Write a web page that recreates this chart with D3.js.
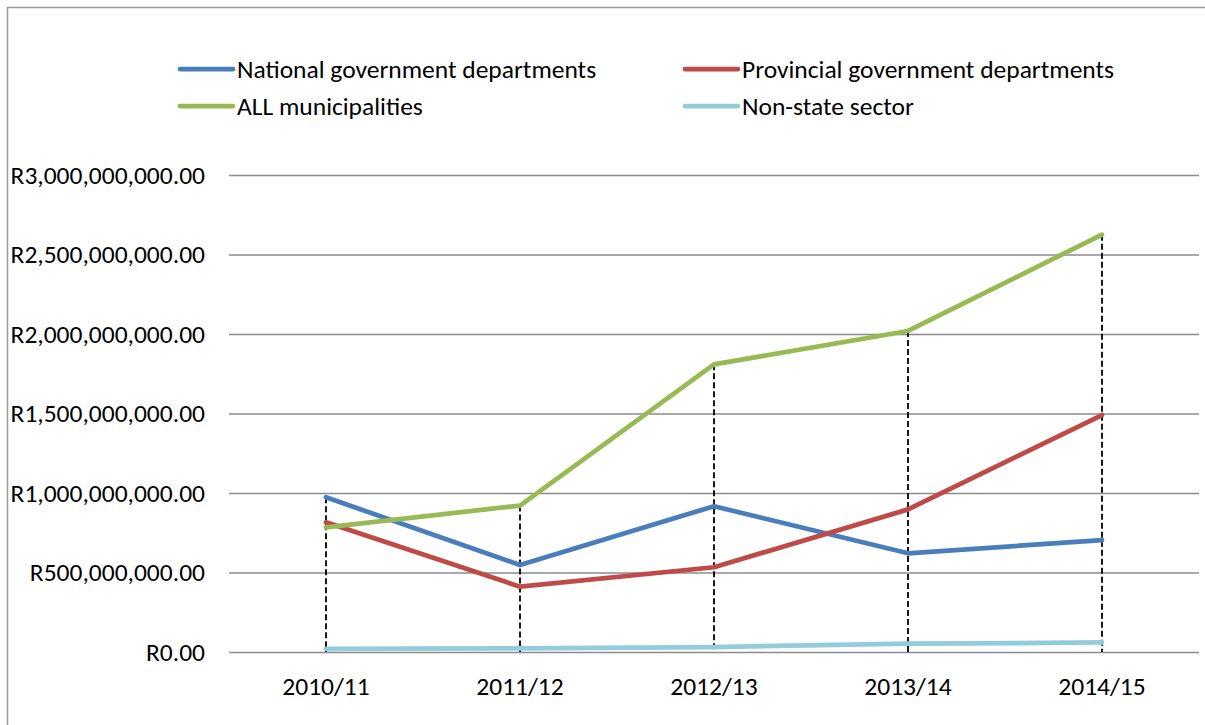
<!DOCTYPE html>
<html>
<head>
<meta charset="utf-8">
<script src="https://cdn.jsdelivr.net/npm/d3@7"></script>
<style>
  body { margin: 0; background: #fff; }
  svg { display: block; font-family: Carlito, Lato, "Open Sans", sans-serif; }
</style>
</head>
<body>
<div id="chart"></div>
<script>
const years = ['2010/11', '2011/12', '2012/13', '2013/14', '2014/15'];
const national = [973e6, 547e6, 917e6, 621e6, 704e6];
const provincial = [816e6, 411e6, 533e6, 897e6, 1490e6];
const municipalities = [784e6, 921e6, 1809e6, 2019e6, 2625e6];
const nonState = [20e6, 23e6, 31e6, 52e6, 60e6];
const yTicks = [0, 5e8, 1e9, 1.5e9, 2e9, 2.5e9, 3e9];

const series = [
  { name: 'National government departments', values: national, color: '#4a7ebb' },
  { name: 'Provincial government departments', values: provincial, color: '#be4b48' },
  { name: 'ALL municipalities', values: municipalities, color: '#98b954' },
  { name: 'Non-state sector', values: nonState, color: '#92cddc' },
];

const width = 1205;
const height = 725;
const margin = { top: 175, right: 6, bottom: 73, left: 229 };
const fontSize = '25.5px';
const fontFamily = 'Carlito, Lato, "Open Sans", sans-serif';

const svg = d3.select('#chart')
  .append('svg')
  .attr('width', width)
  .attr('height', height);

// chart border (runs off the right / bottom edge like the original)
svg.append('rect')
  .attr('x', 7.5).attr('y', 7.5)
  .attr('width', 1220).attr('height', 740)
  .attr('fill', 'none')
  .attr('stroke', '#9a9a9a')
  .attr('stroke-width', 1.5);

const x = d3.scaleBand()
  .domain(years)
  .range([margin.left, width - margin.right]);

const y = d3.scaleLinear()
  .domain([0, 3e9])
  .range([height - margin.bottom, margin.top]);

const fmt = v => 'R' + d3.format(',.2f')(v);

// gridlines + y labels
const yAxis = svg.append('g')
  .attr('transform', `translate(${margin.left},0)`)
  .call(d3.axisLeft(y).tickValues(yTicks).tickFormat(fmt).tickSize(-(width - margin.right - margin.left)).tickPadding(24));
yAxis.select('.domain').remove();
yAxis.selectAll('.tick line').attr('stroke', '#8c8c8c').attr('stroke-width', 1.5);
yAxis.selectAll('.tick text')
  .attr('font-size', fontSize)
  .attr('font-family', fontFamily)
  .attr('fill', '#000');

// x labels
const xAxis = svg.append('g')
  .attr('transform', `translate(0,${y(0)})`)
  .call(d3.axisBottom(x).tickSize(0).tickPadding(25));
xAxis.select('.domain').remove();
xAxis.selectAll('.tick text')
  .attr('font-size', fontSize)
  .attr('font-family', fontFamily)
  .attr('fill', '#000');

const cx = d => x(d) + x.bandwidth() / 2;

// drop lines from the highest point to the axis
svg.append('g')
  .selectAll('line')
  .data(years)
  .join('line')
  .attr('x1', d => cx(d))
  .attr('x2', d => cx(d))
  .attr('y1', (d, i) => y(d3.max(series, s => s.values[i])))
  .attr('y2', y(0))
  .attr('stroke', '#000')
  .attr('stroke-width', 1.8)
  .attr('stroke-dasharray', '6,3');

const line = d3.line()
  .x((d, i) => cx(years[i]))
  .y(d => y(d));

svg.append('g')
  .selectAll('path')
  .data(series)
  .join('path')
  .attr('d', d => line(d.values))
  .attr('fill', 'none')
  .attr('stroke', d => d.color)
  .attr('stroke-width', 4.75)
  .attr('stroke-linejoin', 'round')
  .attr('stroke-linecap', 'round');

// legend
const legendPos = [[180, 69], [685, 69], [180, 106], [685, 106]];
const legend = svg.append('g')
  .selectAll('g')
  .data(series)
  .join('g')
  .attr('transform', (d, i) => `translate(${legendPos[i][0]},${legendPos[i][1]})`);
legend.append('line')
  .attr('x1', 0).attr('x2', 53)
  .attr('stroke', d => d.color)
  .attr('stroke-width', 4.75)
  .attr('stroke-linecap', 'round');
legend.append('text')
  .attr('x', 57)
  .attr('dy', '0.35em')
  .attr('font-size', fontSize)
  .attr('font-family', fontFamily)
  .attr('fill', '#000')
  .text(d => d.name);
</script>
</body>
</html>
